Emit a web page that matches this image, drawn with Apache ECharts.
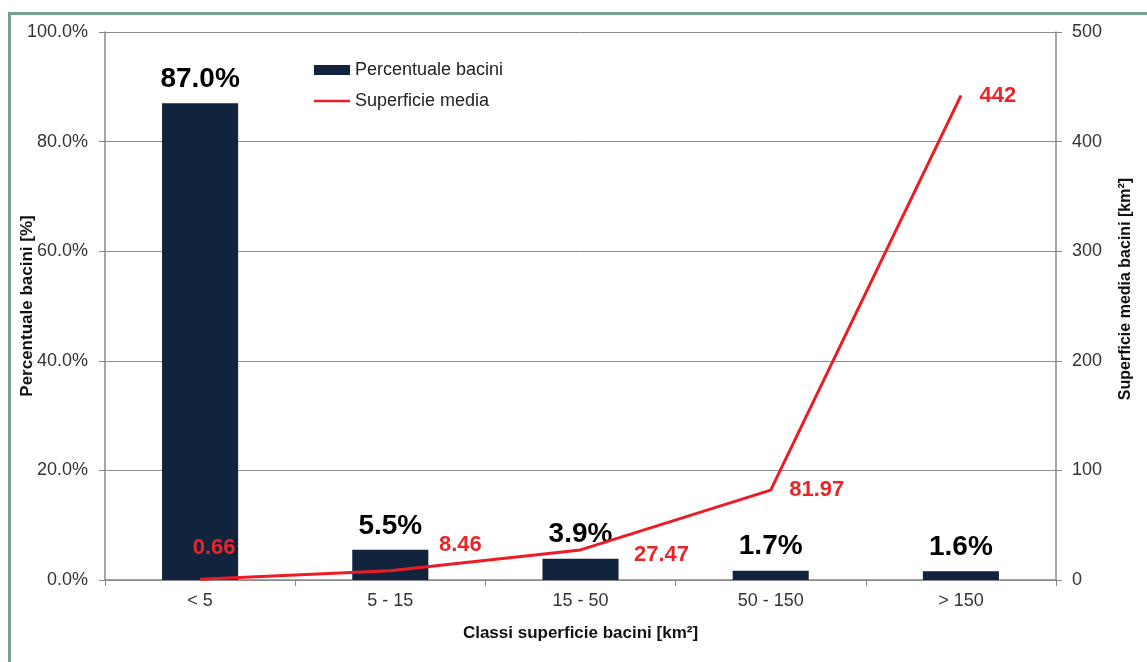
<!DOCTYPE html>
<html>
<head>
<meta charset="utf-8">
<script src="https://cdn.jsdelivr.net/npm/echarts@6/dist/echarts.min.js"></script>
<style>
  html, body { margin: 0; padding: 0; background: #fff; overflow: hidden; }
  #frame {
    position: absolute; left: 8px; top: 12px; width: 2000px; height: 2000px;
    border: 3px solid #76a18a; box-sizing: border-box;
  }
  #chart { position: absolute; left: 0; top: 0; width: 1147px; height: 662px; }
</style>
</head>
<body>
<div id="frame"></div>
<div id="chart"></div>
<script>
const categories = ["< 5", "5 - 15", "15 - 50", "50 - 150", "> 150"];
const percentBacini = [87.0, 5.5, 3.9, 1.7, 1.6];
const superficieMedia = [0.66, 8.46, 27.47, 81.97, 442];

// label nudges for the red values, [dx, dy] from each point
const lineLabelOffsets = [[14, -31], [70, -26], [81, 5], [46, 0], [37, 0]];

const font = "'Liberation Sans', Arial, sans-serif";

const chart = echarts.init(document.getElementById("chart"));

const options = {
  animation: false,
  backgroundColor: "transparent",
  textStyle: { fontFamily: font },
  grid: {
    left: 105,
    right: 91,
    top: 32,
    bottom: 82,
    containLabel: false,
    outerBoundsMode: "none",
  },
  legend: {
    orient: "vertical",
    left: 309,
    top: 56,
    itemWidth: 36,
    itemHeight: 10,
    itemGap: 13,
    textStyle: { fontFamily: font, fontSize: 18, color: "#222" },
    data: [
      { name: "Percentuale bacini", icon: "rect" },
      { name: "Superficie media", icon: "path://M0,0H40V3H0Z" },
    ],
  },
  xAxis: {
    type: "category",
    data: categories,
    name: "Classi superficie bacini [km²]",
    nameLocation: "middle",
    nameGap: 45,
    nameTextStyle: { fontFamily: font, fontSize: 17, fontWeight: "bold", color: "#111" },
    axisLine: { lineStyle: { color: "#888", width: 1.5 } },
    axisTick: { show: true, length: 6, lineStyle: { color: "#888" } },
    axisLabel: { fontFamily: font, fontSize: 18, color: "#333", margin: 12 },
  },
  yAxis: [
    {
      type: "value",
      min: 0,
      max: 100,
      interval: 20,
      name: "Percentuale bacini [%]",
      nameLocation: "middle",
      nameRotate: 90,
      nameGap: 69,
      nameMoveOverlap: false,
      nameTextStyle: { fontFamily: font, fontSize: 17, fontWeight: "bold", color: "#111" },
      axisLine: { show: true, lineStyle: { color: "#888", width: 1.5 } },
      axisTick: { show: true, length: 6, lineStyle: { color: "#888" } },
      axisLabel: {
        fontFamily: font,
        fontSize: 18,
        color: "#333",
        margin: 17,
        formatter: (v) => v.toFixed(1) + "%",
      },
      splitLine: { lineStyle: { color: "#8c8c8c", width: 1 } },
    },
    {
      type: "value",
      min: 0,
      max: 500,
      interval: 100,
      position: "right",
      name: "Superficie media bacini [km²]",
      nameLocation: "middle",
      nameRotate: 90,
      nameGap: 62,
      nameTextStyle: {
        fontFamily: font,
        fontSize: 16,
        fontWeight: "bold",
        color: "#111",
        padding: [0, 0, 0, 34],
      },
      axisLine: { show: true, lineStyle: { color: "#888", width: 1.5 } },
      axisTick: { show: true, length: 6, lineStyle: { color: "#888" } },
      axisLabel: { fontFamily: font, fontSize: 18, color: "#333", margin: 16 },
      splitLine: { show: false },
    },
  ],
  series: [
    {
      name: "Percentuale bacini",
      type: "bar",
      yAxisIndex: 0,
      barWidth: "40%",
      data: percentBacini,
      itemStyle: { color: "#12233d" },
      label: {
        show: true,
        position: "top",
        distance: 10,
        fontFamily: font,
        fontSize: 28,
        fontWeight: "bold",
        color: "#000",
        formatter: (p) => p.value.toFixed(1) + "%",
      },
      z: 2,
    },
    {
      name: "Superficie media",
      type: "line",
      yAxisIndex: 1,
      smooth: false,
      symbol: "circle",
      symbolSize: 1,
      showSymbol: true,
      itemStyle: { color: "#ed1c24" },
      lineStyle: { color: "#ed1c24", width: 3 },
      data: superficieMedia.map((v, i) => ({
        value: v,
        label: { offset: lineLabelOffsets[i] },
      })),
      label: {
        show: true,
        position: "inside",
        fontFamily: font,
        fontSize: 22,
        fontWeight: "bold",
        color: "#e8262a",
        formatter: (p) => String(p.value),
      },
      z: 3,
    },
  ],
};

chart.setOption(options);
</script>
</body>
</html>
